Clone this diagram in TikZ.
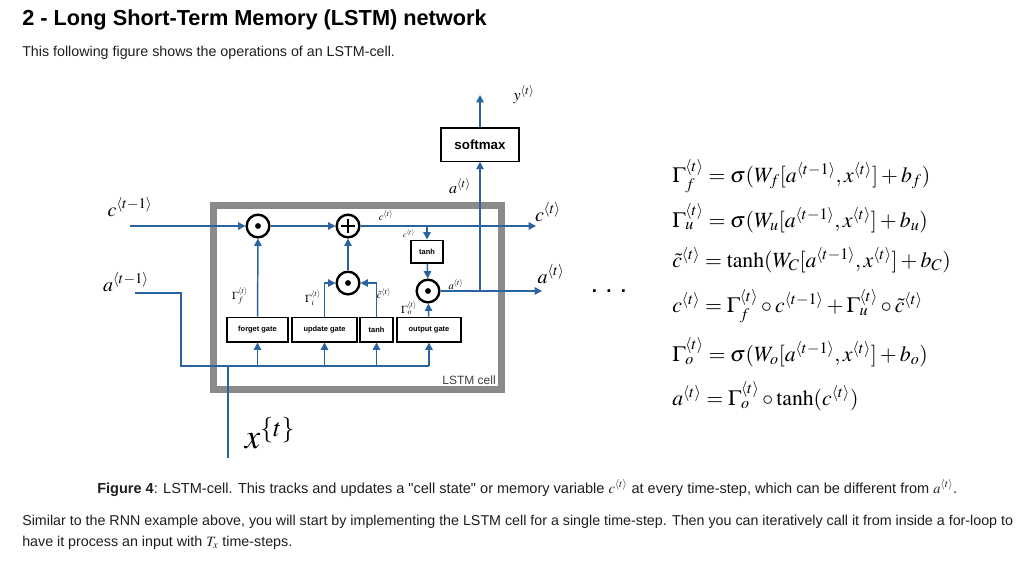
\documentclass[tikz,border=0pt]{standalone}
\usepackage{amsmath}
\usepackage{mathptmx}
\usepackage[no-math]{fontspec}
\setsansfont{Liberation Sans}
\usepackage{graphicx}
\usetikzlibrary{
  arrows.meta,
  positioning,
  calc
}
\definecolor{lsBlue}{HTML}{2A64A0}
\definecolor{lsGray}{HTML}{8A8A8A}
\definecolor{lsText}{HTML}{1E1E1E}
\tikzset{
  wire/.style={draw=lsBlue, line width=1.1pt},
  feed/.style={wire, -{Triangle[length=5.5pt, width=5.5pt]}},
  opnode/.style={circle, draw=black, line width=1.8pt, minimum size=17pt, inner sep=0pt, fill=white},
  dotop/.style={opnode, path picture={\fill[black] (path picture bounding box.center) circle (2.2pt);}},
  plusop/.style={opnode, path picture={
      \draw[black, line width=0.9pt] ([xshift=-5pt]path picture bounding box.center) -- ([xshift=5pt]path picture bounding box.center);
      \draw[black, line width=0.9pt] ([yshift=-5pt]path picture bounding box.center) -- ([yshift=5pt]path picture bounding box.center);}},
  gatebox/.style={draw=black, line width=1pt, fill=white, minimum height=18.5pt, inner sep=1pt,
    font=\sffamily\bfseries\fontsize{5.6}{7}\selectfont},
  smallbox/.style={gatebox, minimum width=24pt, minimum height=17pt},
  softbox/.style={draw=black, line width=1pt, fill=white, minimum width=58.5pt, minimum height=25pt,
    font=\sffamily\bfseries\fontsize{10}{12}\selectfont},
  cellbox/.style={draw=lsGray, line width=5pt, minimum width=216pt, minimum height=138pt},
  celltag/.style={font=\sffamily\fontsize{9}{11}\selectfont, text=black!75, inner sep=0pt},
  biglbl/.style={font=\fontsize{15}{17}\selectfont, inner sep=0pt},
  midlbl/.style={font=\fontsize{12}{14}\selectfont, inner sep=0pt},
  tinylbl/.style={font=\fontsize{8}{9}\selectfont, inner sep=0pt},
  eqline/.style={font=\fontsize{16.3}{19}\selectfont, anchor=west, inner sep=0pt},
  heading/.style={font=\sffamily\bfseries\fontsize{16.3}{20}\selectfont, text=black, anchor=west, inner sep=0pt},
  bodytext/.style={font=\sffamily\fontsize{10.7}{13}\selectfont, text=lsText, anchor=west, inner sep=0pt}
}

\begin{document}
\begin{tikzpicture}[x=0.75pt, y=-0.75pt]
  \useasboundingbox[fill=white] (0,0) rectangle (1030,562);

  % page text
  \node[heading] (title) at (22,20) {2 - Long Short-Term Memory (LSTM) network};
  \node[bodytext] (intro) at (22,53) {This following figure shows the operations of an LSTM-cell.};

  % the cell
  \node[cellbox] (cell) at (357.5,297.5) {};
  \node[celltag, anchor=east] (celllbl) at (496,380) {LSTM cell};

  % gates
  \node[gatebox, minimum width=45.75pt] (fgate) at (257.5,329.5) {forget gate};
  \node[gatebox, minimum width=48.75pt] (ugate) at (324.5,329.5) {update gate};
  \node[gatebox, minimum width=24.75pt] (tgate) at (376.5,329.5) {tanh};
  \node[gatebox, minimum width=48pt] (ogate) at (429,329.5) {output gate};

  % pointwise ops
  \node[dotop] (fmul) at (258,226) {};
  \node[plusop] (cadd) at (348,226) {};
  \node[dotop] (imul) at (348,283) {};
  \node[dotop] (omul) at (428,291) {};
  \node[smallbox] (tanhc) at (427,251.5) {tanh};
  \node[softbox] (soft) at (480,144.5) {softmax};

  \coordinate (cprev) at (130,226);
  \coordinate (cnext) at (536,226);
  \coordinate (aprev) at (135,293);
  \coordinate (anext) at (542,291);
  \coordinate (yout) at (480,95);
  \coordinate (bend) at (181,366);
  \coordinate (xin) at (228,458);

  % connectors
  \draw[feed] (cprev) -- (fmul);
  \draw[feed] (fmul) -- (cadd);
  \draw[feed] (cadd) -- (cnext);
  \draw[feed] (tanhc |- cadd) -- (tanhc);
  \draw[feed] (tanhc) -- (omul);
  \draw[feed] (omul) -- (anext);
  \draw[feed] (soft |- omul) -- (soft);
  \draw[feed] (soft) -- (yout);
  \draw[wire] (aprev) -| (bend) -- (ogate |- bend);
  \draw[wire] (xin) -- (xin |- bend);
  \foreach \g in {fgate,ugate,tgate,ogate}
    \draw[feed] (\g |- bend) -- (\g);
  \draw[feed] (fgate) -- (fmul);
  \draw[feed] (ugate) |- (imul);
  \draw[feed] (tgate) |- (imul);
  \draw[feed] (imul) -- (cadd);
  \draw[feed] (ogate) -- (omul);

  % labels
  \node[biglbl] (lcprev) at (130,207) {$c^{\langle t-1\rangle}$};
  \node[biglbl] (laprev) at (126,282) {$a^{\langle t-1\rangle}$};
  \node[biglbl] (lcnext) at (548,212) {$c^{\langle t\rangle}$};
  \node[biglbl] (lanext) at (551,274) {$a^{\langle t\rangle}$};
  \node[midlbl] (lyout) at (524,95) {$y^{\langle t\rangle}$};
  \node[midlbl] (lasoft) at (460,186) {$a^{\langle t\rangle}$};
  \node[tinylbl] (lcadd) at (386,216) {$c^{\langle t\rangle}$};
  \node[tinylbl, font=\fontsize{6}{7}\selectfont] (lctanh) at (409,234) {$c^{\langle t\rangle}$};
  \node[tinylbl] (laomul) at (456,285) {$a^{\langle t\rangle}$};
  \node[tinylbl] (lgf) at (240,296) {$\Gamma_f^{\langle t\rangle}$};
  \node[tinylbl] (lgi) at (313,298) {$\Gamma_i^{\langle t\rangle}$};
  \node[tinylbl] (lct) at (384,294) {$\tilde{c}^{\langle t\rangle}$};
  \node[tinylbl] (lgo) at (409,308) {$\Gamma_o^{\langle t\rangle}$};
  \node[font=\fontsize{26}{30}\selectfont, inner sep=0pt] (lxin) at (270,433) {$x^{\{t\}}$};
  \node[font=\sffamily\bfseries\fontsize{14}{16}\selectfont, inner sep=0pt] (dots) at (609,291) {.\hspace{7pt}.\hspace{7pt}.};

  % equations
  \node[eqline] (eqf) at (672,176) {$\Gamma_f^{\langle t\rangle} = \sigma(W_f[a^{\langle t-1\rangle}, x^{\langle t\rangle}] + b_f)$};
  \node[eqline] (equ) at (672,218) {$\Gamma_u^{\langle t\rangle} = \sigma(W_u[a^{\langle t-1\rangle}, x^{\langle t\rangle}] + b_u)$};
  \node[eqline] (eqc) at (672,260) {$\tilde{c}^{\langle t\rangle} = \tanh(W_C[a^{\langle t-1\rangle}, x^{\langle t\rangle}] + b_C)$};
  \node[eqline] (eqs) at (672,306) {$c^{\langle t\rangle} = \Gamma_f^{\langle t\rangle}\circ c^{\langle t-1\rangle} + \Gamma_u^{\langle t\rangle}\circ\tilde{c}^{\langle t\rangle}$};
  \node[eqline] (eqo) at (672,352) {$\Gamma_o^{\langle t\rangle} = \sigma(W_o[a^{\langle t-1\rangle}, x^{\langle t\rangle}] + b_o)$};
  \node[eqline] (eqa) at (672,396) {$a^{\langle t\rangle} = \Gamma_o^{\langle t\rangle}\circ\tanh(c^{\langle t\rangle})$};

  % caption and text below
  \node[bodytext, font=\sffamily\fontsize{10.9}{13}\selectfont] (cap) at (97,488)
    {\textbf{Figure 4}: LSTM-cell. This tracks and updates a \textquotedbl cell state\textquotedbl{} or memory variable $c^{\langle t\rangle}$ at every time-step, which can be different from $a^{\langle t\rangle}$.};
  \node[bodytext] (para1) at (22,522)
    {Similar to the RNN example above, you will start by implementing the LSTM cell for a single time-step. Then you can iteratively call it from inside a for-loop to};
  \node[bodytext] (para2) at (22,543) {have it process an input with $T_x$ time-steps.};
\end{tikzpicture}
\end{document}
